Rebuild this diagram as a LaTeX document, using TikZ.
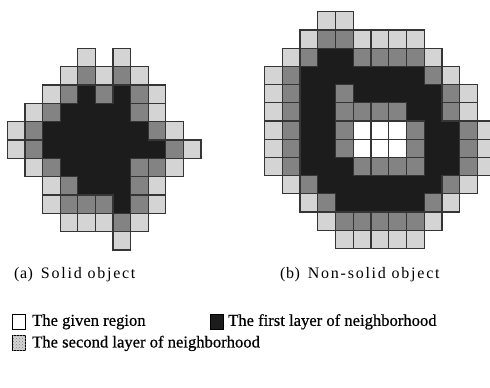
\documentclass[tikz,border=0pt]{standalone}
\usepackage{fontspec}
\setmainfont{Liberation Serif}
\newfontfamily\capfont[LetterSpace=11]{Liberation Serif}
\newfontfamily\legfont[FakeBold=0.6]{Liberation Serif}
\usetikzlibrary{patterns}
\definecolor{lightc}{HTML}{D4D4D4}
\definecolor{medc}{HTML}{838383}
\definecolor{darkc}{HTML}{1C1C1C}
\definecolor{linec}{HTML}{353535}
\newcommand\cellgrid[5]{%
  \foreach \pass in {f,l}{%
    \foreach \row [count=\ri from 0] in {#5}{%
      \foreach \cc [count=\ki from 0] in \row {%
        \begingroup\edef\tmp{\endgroup\noexpand\path[\pass\cc]}\tmp
          ({#1+\ki*#3},{-#2-\ri*#4}) rectangle ++(#3,-#4);
      }}}}
\begin{document}
\begin{tikzpicture}[x=1pt,y=1pt,
  fo/.style={}, lo/.style={},
  fL/.style={fill=lightc}, fM/.style={fill=medc},
  fB/.style={fill=darkc}, fW/.style={fill=white},
  lL/.style={draw=linec,line width=1.2pt},
  lM/.style={draw=linec,line width=1.2pt},
  lW/.style={draw=linec,line width=1.2pt},
  lB/.style={},
  captxt/.style={inner sep=0pt,anchor=west,font=\capfont\fontsize{16}{18}\selectfont},
  legtxt/.style={inner sep=0pt,anchor=west,font=\legfont\fontsize{16.6}{18}\selectfont},
  legbox/.style={draw=black,line width=0.9pt,minimum width=13pt,minimum height=15pt,inner sep=0pt}]
\useasboundingbox (0,0) rectangle (490,-388);
\clip (0,0) rectangle (490,-388);
% panel (a)
\cellgrid{7.3}{48.3}{17.6}{18.33}{
 {o,o,o,o,L,o,L},
 {o,o,o,L,M,L,M,L},
 {o,o,L,M,B,M,B,M,L},
 {o,L,M,B,B,B,B,M,L},
 {L,M,B,B,B,B,B,B,M,L},
 {L,M,B,B,B,B,B,B,B,M,L},
 {o,L,M,B,B,B,B,M,M,L},
 {o,o,L,M,B,B,B,M,L},
 {o,o,L,M,M,M,B,M,L},
 {o,o,o,L,L,L,M,L},
 {o,o,o,o,o,o,L}}
% panel (b)
\cellgrid{264.5}{11.7}{17.75}{18.2}{
 {o,o,o,L,L},
 {o,o,L,M,M,L,L,L,L},
 {o,L,M,B,B,M,M,M,M,L},
 {L,M,B,B,B,B,B,B,B,M,L},
 {L,M,B,B,M,B,B,B,B,B,M,L},
 {L,M,B,B,M,M,M,M,B,B,M,L},
 {L,M,B,B,M,W,W,W,M,B,B,M,L},
 {L,M,B,B,M,W,W,W,M,B,B,M,L},
 {L,M,B,B,B,M,M,M,M,B,B,M,L},
 {o,L,M,B,B,B,B,B,B,B,M,L},
 {o,o,L,M,B,B,B,B,B,M,L},
 {o,o,o,L,M,M,M,M,M,L},
 {o,o,o,o,L,L,L,L,L}}
% captions
\node[captxt] (capa) at (14,-275) {(\hspace{0.5pt}a\hspace{0.5pt})\hspace{8pt}Solid object};
\node[captxt] (capb) at (280,-275) {(\hspace{0.5pt}b\hspace{0.5pt})\hspace{8pt}Non-solid object};
% legend
\node[legbox,fill=white] (boxg) at (19.4,-321.8) {};
\node[legtxt] (txtg) at (32,-321.8) {The given region};
\node[legbox,fill=darkc] (boxf) at (217.4,-321.8) {};
\node[legtxt] (txtf) at (228,-321.8) {The first layer of neighborhood};
\node[legbox,fill=lightc,postaction={pattern=crosshatch dots,pattern color=gray}] (boxs) at (19.4,-343.4) {};
\node[legtxt] (txts) at (32,-343.4) {The second layer of neighborhood};
\end{tikzpicture}
\end{document}
